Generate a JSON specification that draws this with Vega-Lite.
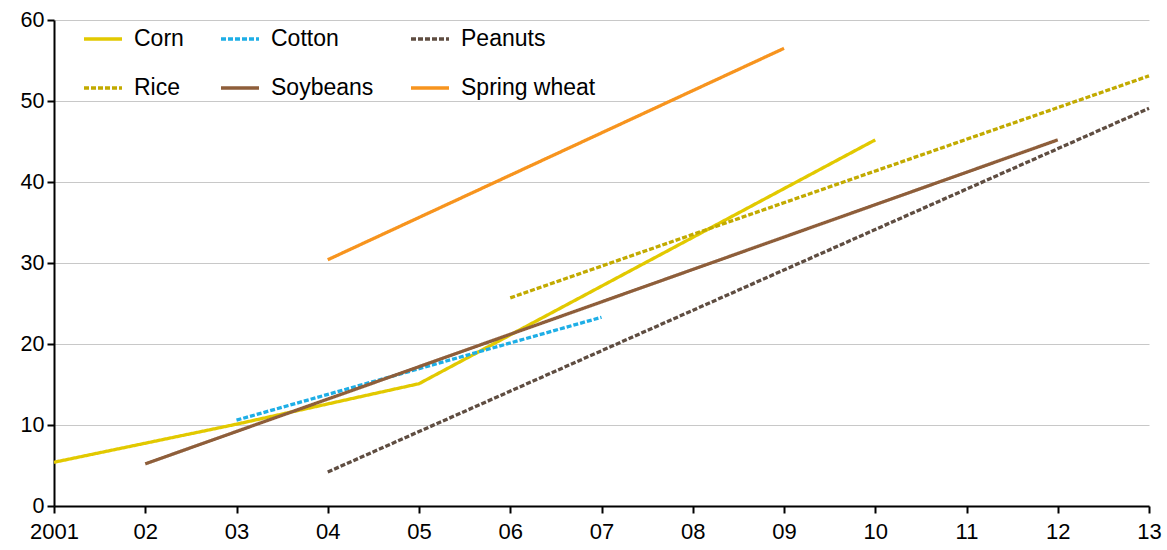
{
  "$schema": "https://vega.github.io/schema/vega-lite/v6.json",
  "width": 1095,
  "height": 486,
  "autosize": {"type": "none"},
  "padding": {"left": 54, "top": 20, "right": 18, "bottom": 44},
  "background": "white",
  "config": {
    "view": {"stroke": null},
    "font": "Liberation Sans"
  },
  "data": {
    "values": [
      {"crop": "Corn", "year": 2001, "value": 5.4},
      {"crop": "Corn", "year": 2003, "value": 10.1},
      {"crop": "Corn", "year": 2005, "value": 15.1},
      {"crop": "Corn", "year": 2010, "value": 45.2},
      {"crop": "Cotton", "year": 2003, "value": 10.6},
      {"crop": "Cotton", "year": 2007, "value": 23.3},
      {"crop": "Peanuts", "year": 2004, "value": 4.2},
      {"crop": "Peanuts", "year": 2013, "value": 49.1},
      {"crop": "Rice", "year": 2006, "value": 25.7},
      {"crop": "Rice", "year": 2013, "value": 53.1},
      {"crop": "Soybeans", "year": 2002, "value": 5.2},
      {"crop": "Soybeans", "year": 2012, "value": 45.2},
      {"crop": "Spring wheat", "year": 2004, "value": 30.4},
      {"crop": "Spring wheat", "year": 2009, "value": 56.5}
    ]
  },
  "mark": {"type": "line", "strokeWidth": 3.3, "strokeCap": "butt"},
  "encoding": {
    "x": {
      "field": "year",
      "type": "quantitative",
      "scale": {"domain": [2001, 2013], "nice": false, "zero": false},
      "axis": {
        "title": null,
        "values": [2001, 2002, 2003, 2004, 2005, 2006, 2007, 2008, 2009, 2010, 2011, 2012, 2013],
        "labelExpr": "datum.value == 2001 ? '2001' : substring(toString(datum.value), 2, 4)",
        "grid": false,
        "domainColor": "#000000",
        "domainWidth": 2,
        "tickColor": "#000000",
        "tickWidth": 2,
        "tickSize": 7,
        "labelFontSize": 22,
        "labelColor": "#000000",
        "labelPadding": 8,
        "labelFlush": false
      }
    },
    "y": {
      "field": "value",
      "type": "quantitative",
      "scale": {"domain": [0, 60], "nice": false},
      "axis": {
        "title": null,
        "values": [0, 10, 20, 30, 40, 50, 60],
        "grid": true,
        "gridColor": "#C8C8C8",
        "gridWidth": 1,
        "domainColor": "#000000",
        "domainWidth": 2,
        "tickColor": "#000000",
        "tickWidth": 2,
        "tickSize": 7,
        "labelFontSize": 21.5,
        "labelColor": "#000000",
        "labelPadding": 3
      }
    },
    "color": {
      "field": "crop",
      "type": "nominal",
      "scale": {
        "domain": ["Corn", "Cotton", "Peanuts", "Rice", "Soybeans", "Spring wheat"],
        "range": ["#E2C900", "#1EAEE6", "#5F4D41", "#C2AA00", "#8E5E3A", "#F7941E"]
      },
      "legend": {
        "title": null,
        "orient": "none",
        "legendX": 28,
        "legendY": -2,
        "columns": 3,
        "direction": "horizontal",
        "symbolType": "stroke",
        "symbolSize": 1444,
        "symbolStrokeWidth": 3.3,
        "labelFontSize": 23,
        "labelColor": "#000000",
        "labelOffset": 10,
        "columnPadding": 30,
        "rowPadding": 16
      }
    },
    "strokeDash": {
      "field": "crop",
      "type": "nominal",
      "scale": {
        "domain": ["Corn", "Cotton", "Peanuts", "Rice", "Soybeans", "Spring wheat"],
        "range": [[1, 0], [5, 2], [5, 2], [5, 2], [1, 0], [1, 0]]
      },
      "legend": null
    }
  }
}
